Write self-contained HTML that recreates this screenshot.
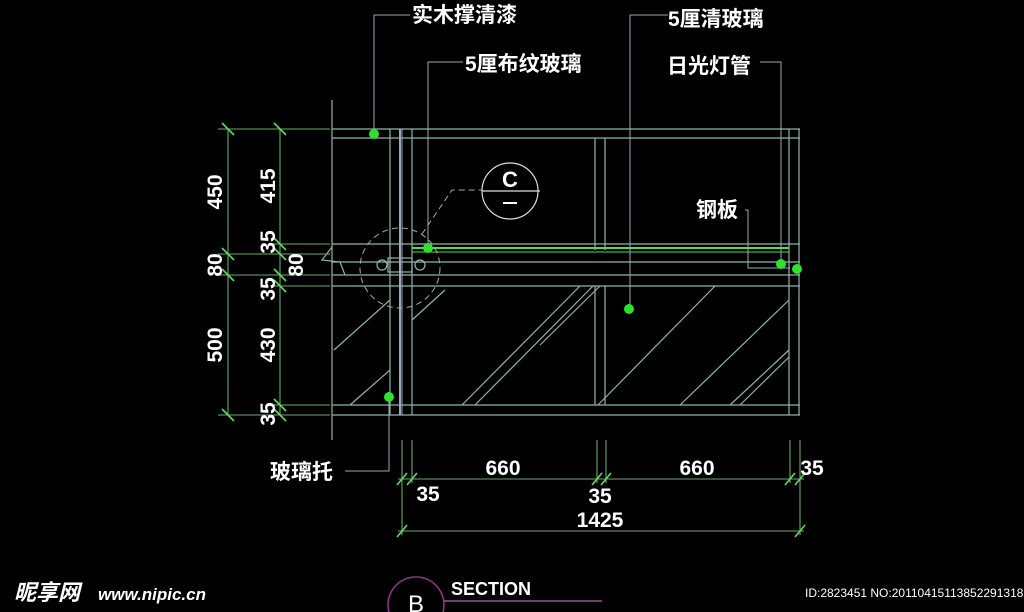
<!DOCTYPE html>
<html><head><meta charset="utf-8"><style>
html,body{margin:0;padding:0;background:#000;}
svg{display:block;}
text{font-family:"Liberation Sans","Noto Sans CJK SC",sans-serif;fill:#fff;}
</style></head><body>
<svg width="1024" height="612" viewBox="0 0 1024 612" xmlns="http://www.w3.org/2000/svg">
<rect width="1024" height="612" fill="#000"/>
<g stroke="#8fb5a8" stroke-width="1.2" fill="none">
 <line x1="332" y1="100" x2="332" y2="440"/>
 <line x1="332" y1="129" x2="800" y2="129"/>
 <line x1="332" y1="138" x2="800" y2="138"/>
 <line x1="332" y1="244" x2="800" y2="244"/>
 <line x1="332" y1="275" x2="800" y2="275"/>
 <line x1="332" y1="286" x2="800" y2="286"/>
 <line x1="332" y1="405" x2="800" y2="405"/>
 <line x1="332" y1="415" x2="800" y2="415"/>
 <line x1="390" y1="129" x2="390" y2="415"/>
 <line x1="412" y1="129" x2="412" y2="415"/>
 <line x1="789" y1="129" x2="789" y2="415"/>
 <line x1="799" y1="129" x2="799" y2="415"/>
 <line x1="595" y1="138" x2="595" y2="250"/>
 <line x1="605" y1="138" x2="605" y2="250"/>
 <line x1="595" y1="286" x2="595" y2="405"/>
 <line x1="605" y1="286" x2="605" y2="405"/>
 <line x1="332" y1="262" x2="800" y2="262"/>
 <line x1="334" y1="350" x2="390" y2="300"/>
 <line x1="350" y1="405" x2="390" y2="370"/>
 <line x1="412" y1="320" x2="445" y2="290"/>
 <line x1="462" y1="405" x2="580" y2="286"/>
 <line x1="475" y1="405" x2="593" y2="286"/>
 <line x1="540" y1="345" x2="600" y2="286"/>
 <line x1="598" y1="405" x2="715" y2="286"/>
 <line x1="680" y1="405" x2="789" y2="300"/>
 <line x1="730" y1="405" x2="789" y2="350"/>
 <line x1="740" y1="405" x2="789" y2="357"/>
 <polyline points="332,247 322,260 340,262 345,275"/>
 <rect x="388" y="258" width="24" height="14"/>
 <circle cx="382" cy="265" r="5"/><circle cx="420" cy="265" r="5"/>
 <circle cx="510" cy="191" r="28" stroke="#ddd"/>
 <line x1="482" y1="191" x2="540" y2="191" stroke="#ddd"/>
 <line x1="503" y1="203" x2="517" y2="203" stroke="#fff" stroke-width="2"/>
</g>
<g stroke="#4fdc4f" stroke-width="2" fill="none">
 <line x1="400" y1="129" x2="400" y2="415" stroke="#9ab" stroke-width="2"/>
 <line x1="402" y1="129" x2="402" y2="415" stroke="#9ab" stroke-width="1"/>
 <line x1="412" y1="248" x2="789" y2="248"/>
 <line x1="412" y1="252" x2="789" y2="252" stroke-width="1"/>
</g>
<g stroke="#aaa" stroke-width="1" stroke-dasharray="6,4" fill="none">
 <circle cx="400" cy="268" r="40"/>
 <polyline points="422,234 452,190 482,190"/>
</g>
<g stroke="#6fa86f" stroke-width="1.1" fill="none">
 <line x1="228" y1="129" x2="228" y2="415"/>
 <line x1="280" y1="129" x2="280" y2="415"/>
 <line x1="218" y1="129" x2="330" y2="129"/>
 <line x1="218" y1="254" x2="330" y2="254"/>
 <line x1="218" y1="275" x2="330" y2="275"/>
 <line x1="218" y1="415" x2="330" y2="415"/>
 <line x1="270" y1="244" x2="330" y2="244"/>
 <line x1="270" y1="286" x2="330" y2="286"/>
 <line x1="270" y1="405" x2="330" y2="405"/>
 <line x1="402" y1="440" x2="402" y2="535"/>
 <line x1="412" y1="440" x2="412" y2="483"/>
 <line x1="597" y1="440" x2="597" y2="483"/>
 <line x1="606" y1="440" x2="606" y2="483"/>
 <line x1="790" y1="440" x2="790" y2="483"/>
 <line x1="800" y1="440" x2="800" y2="535"/>
 <line x1="398" y1="479" x2="804" y2="479"/>
 <line x1="398" y1="531" x2="804" y2="531"/>
</g>
<g stroke="#5fdc5f" stroke-width="1.6">
 <line x1="222" y1="123" x2="234" y2="135"/><line x1="274" y1="123" x2="286" y2="135"/>
 <line x1="222" y1="248" x2="234" y2="260"/><line x1="222" y1="269" x2="234" y2="281"/>
 <line x1="222" y1="409" x2="234" y2="421"/>
 <line x1="274" y1="238" x2="286" y2="250"/><line x1="274" y1="248" x2="286" y2="260"/>
 <line x1="274" y1="269" x2="286" y2="281"/><line x1="274" y1="280" x2="286" y2="292"/>
 <line x1="274" y1="399" x2="286" y2="411"/><line x1="274" y1="409" x2="286" y2="421"/>
 <line x1="397" y1="485" x2="407" y2="473"/><line x1="407" y1="485" x2="417" y2="473"/>
 <line x1="592" y1="485" x2="602" y2="473"/><line x1="601" y1="485" x2="611" y2="473"/>
 <line x1="785" y1="485" x2="795" y2="473"/><line x1="795" y1="485" x2="805" y2="473"/>
 <line x1="397" y1="537" x2="407" y2="525"/><line x1="795" y1="537" x2="805" y2="525"/>
</g>
<g stroke="#9ab" stroke-width="1" fill="none">
 <polyline points="410,15 374,15 374,134"/>
 <polyline points="463,62 428,62 428,248"/>
 <polyline points="668,15 630,15 630,309"/>
 <polyline points="760,62 781,62 781,264"/>
 <polyline points="745,210 748,210 748,268 790,268"/>
 <polyline points="345,471 389,471 389,397"/>
</g>
<g fill="#2fe02f">
 <circle cx="374" cy="134" r="5"/><circle cx="428" cy="248" r="5"/>
 <circle cx="629" cy="309" r="5"/><circle cx="781" cy="264" r="5"/>
 <circle cx="797" cy="269" r="5"/><circle cx="389" cy="397" r="5"/>
</g>
<g font-size="21" font-weight="bold">
 <text x="412" y="22">实木撑清漆</text>
 <text x="668" y="26">5厘清玻璃</text>
 <text x="465" y="71">5厘布纹玻璃</text>
 <text x="667" y="73">日光灯管</text>
 <text x="696" y="217">钢板</text>
 <text x="270" y="479">玻璃托</text>
</g>
<text x="510" y="187" font-size="22" font-weight="bold" text-anchor="middle">C</text>
<g font-size="21" font-weight="bold">
 <text transform="translate(222,192) rotate(-90)" text-anchor="middle">450</text>
 <text transform="translate(275,186) rotate(-90)" text-anchor="middle">415</text>
 <text transform="translate(275,242) rotate(-90)" text-anchor="middle">35</text>
 <text transform="translate(222,265) rotate(-90)" text-anchor="middle">80</text>
 <text transform="translate(303,265) rotate(-90)" text-anchor="middle">80</text>
 <text transform="translate(275,289) rotate(-90)" text-anchor="middle">35</text>
 <text transform="translate(222,345) rotate(-90)" text-anchor="middle">500</text>
 <text transform="translate(275,345) rotate(-90)" text-anchor="middle">430</text>
 <text transform="translate(275,414) rotate(-90)" text-anchor="middle">35</text>
 <text x="503" y="475" text-anchor="middle">660</text>
 <text x="697" y="475" text-anchor="middle">660</text>
 <text x="812" y="475" text-anchor="middle">35</text>
 <text x="428" y="501" text-anchor="middle">35</text>
 <text x="600" y="503" text-anchor="middle">35</text>
 <text x="600" y="527" text-anchor="middle">1425</text>
</g>
<circle cx="416" cy="605" r="28" fill="none" stroke="#8a3a8a" stroke-width="1.5"/>
<text x="416" y="612" font-size="24" text-anchor="middle">B</text>
<line x1="444" y1="601" x2="602" y2="601" stroke="#8a5a8a" stroke-width="1.5"/>
<text x="451" y="595" font-size="18" font-weight="bold">SECTION</text>
<text x="14" y="600" font-size="22" font-weight="bold" font-style="italic">昵享网</text>
<text x="98" y="600" font-size="17" font-weight="bold" font-style="italic">www.nipic.cn</text>
<text x="805" y="597" font-size="12">ID:2823451 NO:20110415113852291318</text>
</svg>
</body></html>
